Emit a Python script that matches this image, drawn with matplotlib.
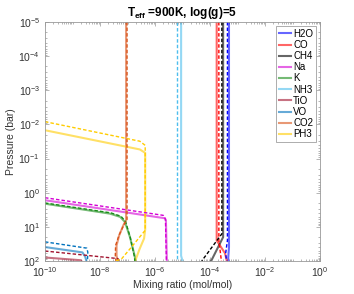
import numpy as np
import matplotlib
matplotlib.use("Agg")
import matplotlib.pyplot as plt
from matplotlib.ticker import LogLocator, NullFormatter, LogFormatterSciNotation

plt.rcParams['font.family'] = ['Liberation Sans', 'DejaVu Sans']
plt.rcParams['mathtext.fontset'] = 'custom'
plt.rcParams['mathtext.rm'] = 'Liberation Sans'
plt.rcParams['mathtext.it'] = 'Liberation Sans:italic'
plt.rcParams['mathtext.bf'] = 'Liberation Sans:bold'

species = ["H2O", "CO", "CH4", "Na", "K", "NH3", "TiO", "VO", "CO2", "PH3"]
colors = ["#0000FF", "#FF0000", "#000000", "#D400D4", "#1A8C1A",
          "#4DBEEE", "#A2142F", "#0072BD", "#D95319", "#FFCC00"]

# Solid-line profiles (mixing ratio, pressure in bar)
h2o_x = [4.9e-4, 4.9e-4, 4.6e-4, 4.7e-4]
h2o_p = [1e-5, 40, 80, 100]
co_x = [1.75e-4, 1.75e-4, 3.5e-4, 4.1e-4]
co_p = [1e-5, 25, 59, 100]
ch4_x = [3.0e-4, 3.0e-4, 1.1e-4]
ch4_p = [1e-5, 20, 100]
na_x = [1e-10, 2.3e-6, 2.5e-6, 2.7e-6]
na_p = [1.66, 5.6, 6.5, 100]
k_x = [1e-10, 2.3e-8, 5.4e-8, 8.1e-8, 1.23e-7, 1.86e-7, 1.9e-7]
k_p = [2.1, 4.1, 5.1, 7.2, 20, 76, 100]
nh3_x = [8.9e-6, 8.9e-6, 1.0e-5]
nh3_p = [1e-5, 70, 100]
tio_x = [1e-10, 2.0e-9, 2.1e-9]
tio_p = [79, 95, 100]
vo_x = [1e-10, 2.3e-9, 2.9e-9, 3.2e-9]
vo_p = [39, 56, 75, 100]
co2_x = [8.9e-8, 8.9e-8, 7.1e-8, 5.0e-8, 4.0e-8, 4.0e-8, 4.3e-8]
co2_p = [1e-5, 6.5, 8.9, 17.7, 35, 68, 100]
ph3_x = [1e-10, 2.8e-7, 4.4e-7, 4.4e-7, 4.0e-7, 2.8e-7, 1.9e-7]
ph3_p = [0.0148, 0.054, 0.068, 12, 22, 43, 100]

# Dashed-line profiles
h2o_xd = [4.3e-4, 4.3e-4, 3.7e-4, 4.0e-4]
h2o_pd = [1e-5, 25, 60, 100]
co_xd = [2.1e-4, 2.1e-4, 2.6e-4]
co_pd = [1e-5, 25, 100]
ch4_xd = [2.7e-4, 2.7e-4, 5.0e-5]
ch4_pd = [1e-5, 16, 100]
na_xd = [1e-10, 2.0e-6, 2.4e-6, 2.6e-6]
na_pd = [1.4, 4.6, 6.0, 100]
k_xd = [1e-10, 2.5e-8, 5.8e-8, 8.5e-8, 1.25e-7, 1.8e-7, 1.85e-7]
k_pd = [2.0, 3.9, 4.9, 7.0, 20, 76, 100]
nh3_xd = [6.2e-6, 6.2e-6]
nh3_pd = [1e-5, 100]
tio_xd = [1e-10, 4.5e-8, 5.0e-8]
tio_pd = [51, 85, 100]
vo_xd = [1e-10, 3.3e-9, 3.6e-9, 3.5e-9]
vo_pd = [27.5, 42, 55, 100]
co2_xd = [9.6e-8, 9.6e-8, 7.5e-8, 5.0e-8, 3.7e-8, 3.6e-8, 3.8e-8]
co2_pd = [1e-5, 6.0, 8.5, 17, 35, 68, 100]
ph3_xd = [1e-10, 2.8e-7, 4.4e-7, 4.4e-7, 1.4e-7, 6.2e-8, 3.8e-8]
ph3_pd = [8.3e-3, 0.031, 0.041, 12.6, 39, 85, 100]

solid = [(h2o_x, h2o_p), (co_x, co_p), (ch4_x, ch4_p), (na_x, na_p), (k_x, k_p),
         (nh3_x, nh3_p), (tio_x, tio_p), (vo_x, vo_p), (co2_x, co2_p), (ph3_x, ph3_p)]
dashed = [(h2o_xd, h2o_pd), (co_xd, co_pd), (ch4_xd, ch4_pd), (na_xd, na_pd), (k_xd, k_pd),
          (nh3_xd, nh3_pd), (tio_xd, tio_pd), (vo_xd, vo_pd), (co2_xd, co2_pd), (ph3_xd, ph3_pd)]

fig = plt.figure(figsize=(3.54, 2.94), dpi=100)
ax = fig.add_axes([45/354, 33/294, 275/354, 239/294])

for name, c, (xs, ps) in zip(species, colors, solid):
    ax.plot(xs, ps, color=c, alpha=0.6, lw=1.5, label=name)
for c, (xs, ps) in zip(colors, dashed):
    ax.plot(xs, ps, color=c, lw=1.0, ls=(0, (2.5, 1.5)))

ax.set_xscale('log')
ax.set_yscale('log')
ax.set_xlim(1e-10, 1)
ax.set_ylim(1e2, 1e-5)

ax.xaxis.set_major_locator(LogLocator(base=100, numticks=20))
ax.xaxis.set_major_formatter(LogFormatterSciNotation())
ax.xaxis.set_minor_locator(LogLocator(base=10, subs=np.arange(1, 10), numticks=50))
ax.xaxis.set_minor_formatter(NullFormatter())
ax.yaxis.set_major_locator(LogLocator(base=10, numticks=20))
ax.yaxis.set_minor_locator(LogLocator(base=10, subs=np.arange(2, 10), numticks=50))
ax.yaxis.set_minor_formatter(NullFormatter())

edge = '#999999'
for s in ax.spines.values():
    s.set_color(edge)
    s.set_linewidth(0.6)
ax.tick_params(which='both', direction='in', top=True, right=True, color=edge,
               labelsize=7.5, labelcolor='#333333', width=0.5)
ax.tick_params(which='major', length=3)
ax.tick_params(which='minor', length=1.5)
ax.tick_params(axis='x', pad=3)

ax.set_xlabel('Mixing ratio (mol/mol)', fontsize=7.5, color='#333333', labelpad=1)
ax.set_ylabel('Pressure (bar)', fontsize=7.5, color='#333333', labelpad=2)
ax.set_title(r'T$_{\mathbf{eff}}$ =900K, log(g)=5', fontsize=8.5, fontweight='bold', pad=4)

leg = ax.legend(loc='upper right', fontsize=7, handlelength=1.3, handletextpad=0.2,
                labelspacing=0.12, borderpad=0.3, borderaxespad=0.4, frameon=True,
                fancybox=False)
leg.get_frame().set_edgecolor('#888888')
leg.get_frame().set_linewidth(0.6)

fig.savefig('out.png', dpi=100)
